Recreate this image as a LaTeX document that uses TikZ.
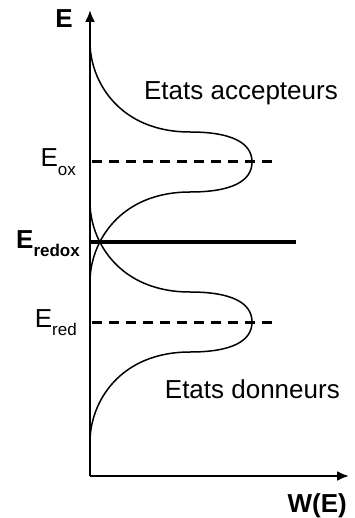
\documentclass[tikz,border=0pt]{standalone}
\usepackage{fontspec}
\setmainfont{Liberation Sans}
\usetikzlibrary{arrows.meta}

\newcommand{\lowsub}[1]{\raisebox{-0.32em}{\fontsize{17}{17}\selectfont #1}}

\begin{document}
\begin{tikzpicture}[
    x=1pt, y=-1pt,
    axis/.style={line width=2.2pt, -{Latex[length=12pt,width=10pt]}},
    band/.style={line width=1.5pt},
    level/.style={line width=3pt, dash pattern=on 10pt off 7pt},
    redox/.style={line width=4.5pt},
    lbl/.style={inner sep=0pt, font=\fontsize{26}{30}\selectfont},
    bold lbl/.style={lbl, font=\fontsize{26}{30}\selectfont\bfseries}
]
\useasboundingbox (0,0) rectangle (355,518);

% Axes
\coordinate (origin) at (90,476);
\coordinate (etop) at (90,10);
\coordinate (wend) at (349,476);
\draw[axis] (origin) -- (etop);
\draw[axis] (origin) -- (wend);

% Levels
\coordinate (ox0) at (92,162);
\coordinate (ox1) at (277,162);
\coordinate (red0) at (92,322);
\coordinate (red1) at (277,322);
\coordinate (rdx0) at (90,242);
\coordinate (rdx1) at (296,242);
\draw[level] (ox0) -- (ox1);
\draw[level] (red0) -- (red1);
\draw[redox] (rdx0) -- (rdx1);

% Acceptor band
\draw[band] (90,42) .. controls (90,82) and (120,132) .. (190,132)
    .. controls (230,132) and (252,142) .. (252,162)
    .. controls (252,182) and (230,192) .. (190,192)
    .. controls (120,192) and (90,242) .. (90,282);

% Donor band
\draw[band] (90,202) .. controls (90,242) and (120,292) .. (190,292)
    .. controls (230,292) and (252,302) .. (252,322)
    .. controls (252,342) and (230,352) .. (190,352)
    .. controls (120,352) and (90,402) .. (90,442);

% Labels
\node[bold lbl, anchor=base east] (elabel) at (73,28) {E};
\node[bold lbl, anchor=base east] (wlabel) at (347,512) {W(E)};
\node[lbl, anchor=base east] (eox) at (76,167) {E\lowsub{ox}};
\node[bold lbl, anchor=base east] (eredox) at (80,248) {E\lowsub{\bfseries redox}};
\node[lbl, anchor=base east] (ered) at (77,327) {E\lowsub{red}};
\node[lbl, anchor=base east] (accept) at (338,100) {Etats accepteurs};
\node[lbl, anchor=base east] (donor) at (340,398) {Etats donneurs};

\end{tikzpicture}
\end{document}
